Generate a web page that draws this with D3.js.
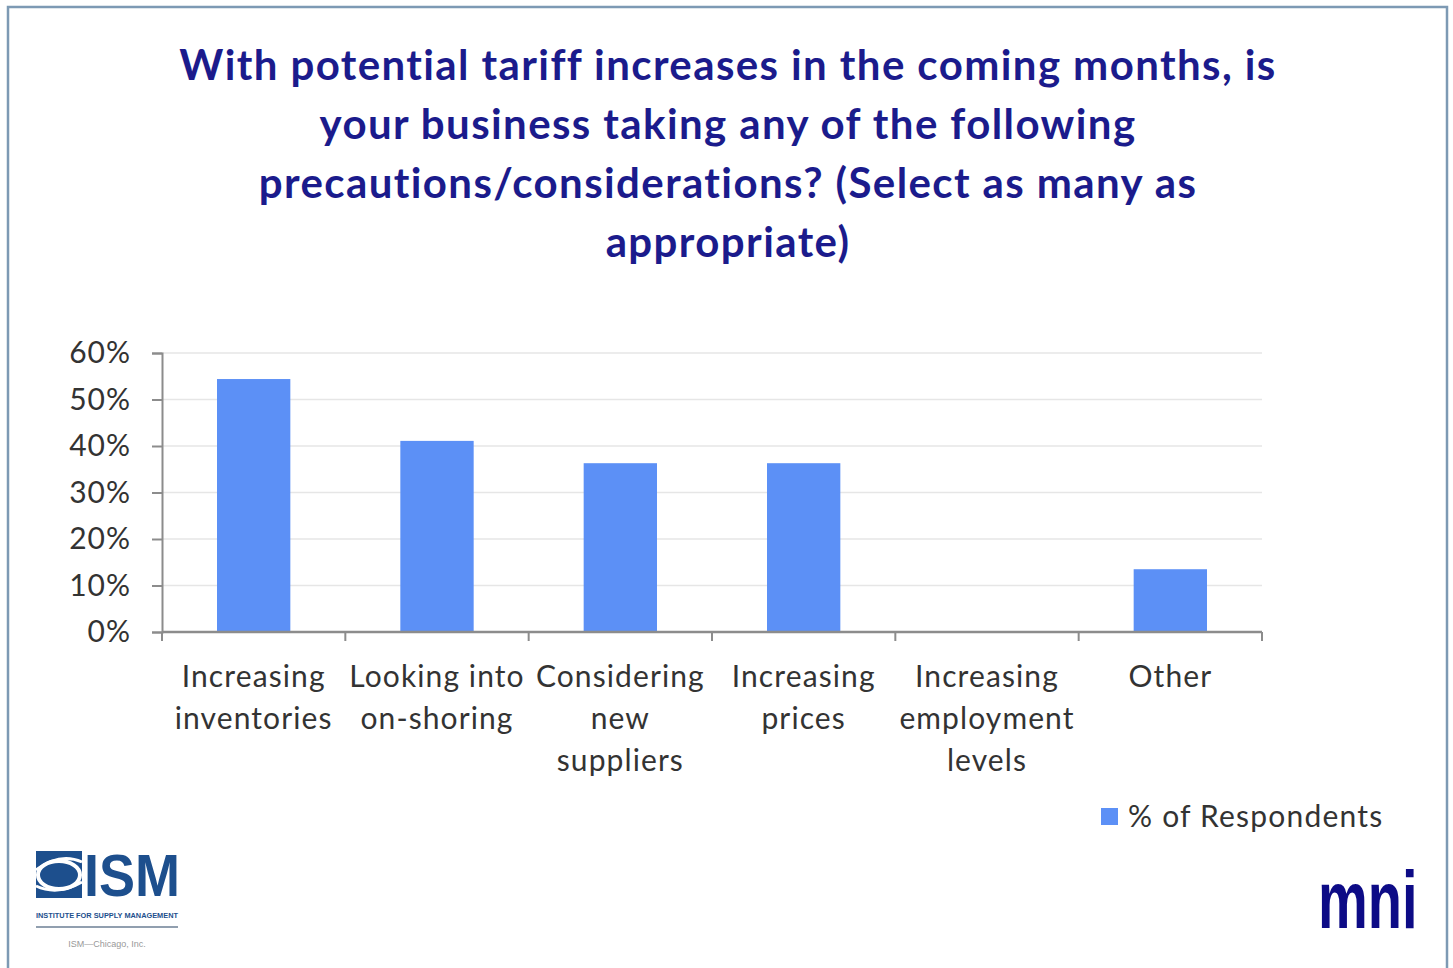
<!DOCTYPE html>
<html>
<head>
<meta charset="utf-8">
<script src="https://cdn.jsdelivr.net/npm/d3@7"></script>
<style>
  html, body { margin: 0; padding: 0; background: #fff; }
  svg { display: block; }
</style>
</head>
<body>
<svg id="chart" width="1453" height="968"></svg>
<script>
// Survey answers: share of respondents choosing each precaution
const categories = [
  ["Increasing", "inventories"],
  ["Looking into", "on-shoring"],
  ["Considering", "new", "suppliers"],
  ["Increasing", "prices"],
  ["Increasing", "employment", "levels"],
  ["Other"]
];
const respondents = [0.544, 0.411, 0.363, 0.363, 0, 0.135];
const yTicks = [0, 0.1, 0.2, 0.3, 0.4, 0.5, 0.6];
const titleLines = [
  "With potential tariff increases in the coming months, is",
  "your business taking any of the following",
  "precautions/considerations? (Select as many as",
  "appropriate)"
];
const seriesName = "% of Respondents";

const W = 1453, H = 968;
const svg = d3.select("#chart");
const FONT = "Lato, 'Open Sans', sans-serif";
const barColor = "#5c90f6";
const textGray = "#333";

// slide frame
svg.append("rect")
  .attr("x", 8).attr("y", 7)
  .attr("width", 1439).attr("height", 980)
  .attr("fill", "#fff")
  .attr("stroke", "#7d9ab4").attr("stroke-width", 2.5);

// title
svg.append("g").selectAll("text")
  .data(titleLines)
  .join("text")
  .attr("x", 728)
  .attr("y", (d, i) => 80 + i * 59)
  .attr("text-anchor", "middle")
  .attr("font-family", FONT)
  .attr("font-weight", 700)
  .attr("font-size", 42)
  .attr("letter-spacing", 1.4)
  .attr("fill", "#1b1b8c")
  .text(d => d);

// plot area
const plot = { left: 162, right: 1262, top: 353, bottom: 632 };
const x = d3.scaleBand()
  .domain(d3.range(categories.length))
  .range([plot.left, plot.right]);
const y = d3.scaleLinear().domain([0, 0.6]).range([plot.bottom, plot.top]);

// horizontal gridlines
svg.append("g").selectAll("line")
  .data(yTicks.filter(t => t > 0))
  .join("line")
  .attr("x1", plot.left).attr("x2", plot.right)
  .attr("y1", d => y(d)).attr("y2", d => y(d))
  .attr("stroke", "#e6e6e6").attr("stroke-width", 1.5);

// bars
const barW = x.bandwidth() * 0.4;
svg.append("g").selectAll("rect")
  .data(respondents)
  .join("rect")
  .attr("x", (d, i) => x(i) + (x.bandwidth() - barW) / 2)
  .attr("y", d => y(d))
  .attr("width", barW)
  .attr("height", d => y(0) - y(d))
  .attr("fill", barColor);

// y axis
const yAxis = d3.axisLeft(y)
  .tickValues(yTicks)
  .tickFormat(d3.format(".0%"))
  .tickSize(10)
  .tickPadding(21);
const gy = svg.append("g")
  .attr("transform", `translate(${plot.left},0)`)
  .call(yAxis);
gy.select(".domain").attr("stroke", "#8c8c8c").attr("stroke-width", 2);
gy.selectAll(".tick line").attr("stroke", "#8c8c8c").attr("stroke-width", 2);
gy.selectAll(".tick text")
  .attr("font-family", FONT)
  .attr("font-size", 30)
  .attr("letter-spacing", 1)
  .attr("fill", textGray);

// x axis with boundary ticks between categories
const gx = svg.append("g");
gx.append("line")
  .attr("x1", plot.left).attr("x2", plot.right)
  .attr("y1", plot.bottom).attr("y2", plot.bottom)
  .attr("stroke", "#8c8c8c").attr("stroke-width", 2.5);
const bounds = d3.range(categories.length + 1).map(i => i < categories.length ? x(i) : x(i - 1) + x.bandwidth());
gx.selectAll("line.tk")
  .data(bounds)
  .join("line")
  .attr("class", "tk")
  .attr("x1", d => d).attr("x2", d => d)
  .attr("y1", plot.bottom).attr("y2", plot.bottom + 9)
  .attr("stroke", "#8c8c8c").attr("stroke-width", 2);

// category labels
const labels = svg.append("g").selectAll("text")
  .data(categories)
  .join("text")
  .attr("x", (d, i) => x(i) + x.bandwidth() / 2)
  .attr("y", 687)
  .attr("text-anchor", "middle")
  .attr("font-family", FONT)
  .attr("font-size", 30)
  .attr("letter-spacing", 1.1)
  .attr("fill", textGray);
labels.selectAll("tspan")
  .data(d => d)
  .join("tspan")
  .attr("x", function () { return d3.select(this.parentNode).attr("x"); })
  .attr("dy", (d, i) => i === 0 ? 0 : 42)
  .text(d => d);

// legend
const lg = svg.append("g").attr("transform", "translate(1101,808)");
lg.append("rect").attr("width", 17).attr("height", 17).attr("fill", barColor);
lg.append("text")
  .attr("x", 27).attr("y", 19)
  .attr("font-family", FONT)
  .attr("font-size", 30)
  .attr("letter-spacing", 1.2)
  .attr("fill", textGray)
  .text(seriesName);

// ISM logo
const ism = svg.append("g");
const ismBlue = "#1d4f8d";
ism.append("rect").attr("x", 36).attr("y", 851).attr("width", 46).attr("height", 47).attr("fill", ismBlue);
ism.append("ellipse").attr("cx", 59).attr("cy", 875).attr("rx", 21).attr("ry", 14)
  .attr("fill", "none").attr("stroke", "#fff").attr("stroke-width", 4);
ism.append("path").attr("d", "M36,870 Q60,852 82,862").attr("fill", "none").attr("stroke", "#fff").attr("stroke-width", 3);
ism.append("path").attr("d", "M36,886 Q58,896 82,882").attr("fill", "none").attr("stroke", "#fff").attr("stroke-width", 3);
ism.append("text")
  .attr("x", 84).attr("y", 896)
  .attr("font-family", "'Liberation Sans Narrow', 'Liberation Sans', Arial, sans-serif")
  .attr("font-weight", 700)
  .attr("font-size", 60)
  .attr("textLength", 96)
  .attr("lengthAdjust", "spacingAndGlyphs")
  .attr("fill", ismBlue)
  .text("ISM");
ism.append("text")
  .attr("x", 36).attr("y", 918)
  .attr("font-family", "'Liberation Sans', Arial, sans-serif")
  .attr("font-weight", 700)
  .attr("font-size", 6.5)
  .attr("textLength", 142)
  .attr("lengthAdjust", "spacingAndGlyphs")
  .attr("fill", ismBlue)
  .text("INSTITUTE FOR SUPPLY MANAGEMENT");
ism.append("line").attr("x1", 36).attr("x2", 178).attr("y1", 927).attr("y2", 927)
  .attr("stroke", "#6d7f95").attr("stroke-width", 1.5);
ism.append("text")
  .attr("x", 107).attr("y", 947)
  .attr("text-anchor", "middle")
  .attr("font-family", "'Liberation Sans', Arial, sans-serif")
  .attr("font-size", 9)
  .attr("fill", "#999")
  .text("ISM\u2014Chicago, Inc.");

// mni logo, stretched vertically
svg.append("text")
  .attr("transform", "translate(1318,928) scale(1,1.45)")
  .attr("font-family", "'Liberation Sans Narrow', 'Liberation Sans', sans-serif")
  .attr("font-weight", 700)
  .attr("font-size", 56)
  .attr("fill", "#0d0b86")
  .text("mni");
</script>
</body>
</html>
